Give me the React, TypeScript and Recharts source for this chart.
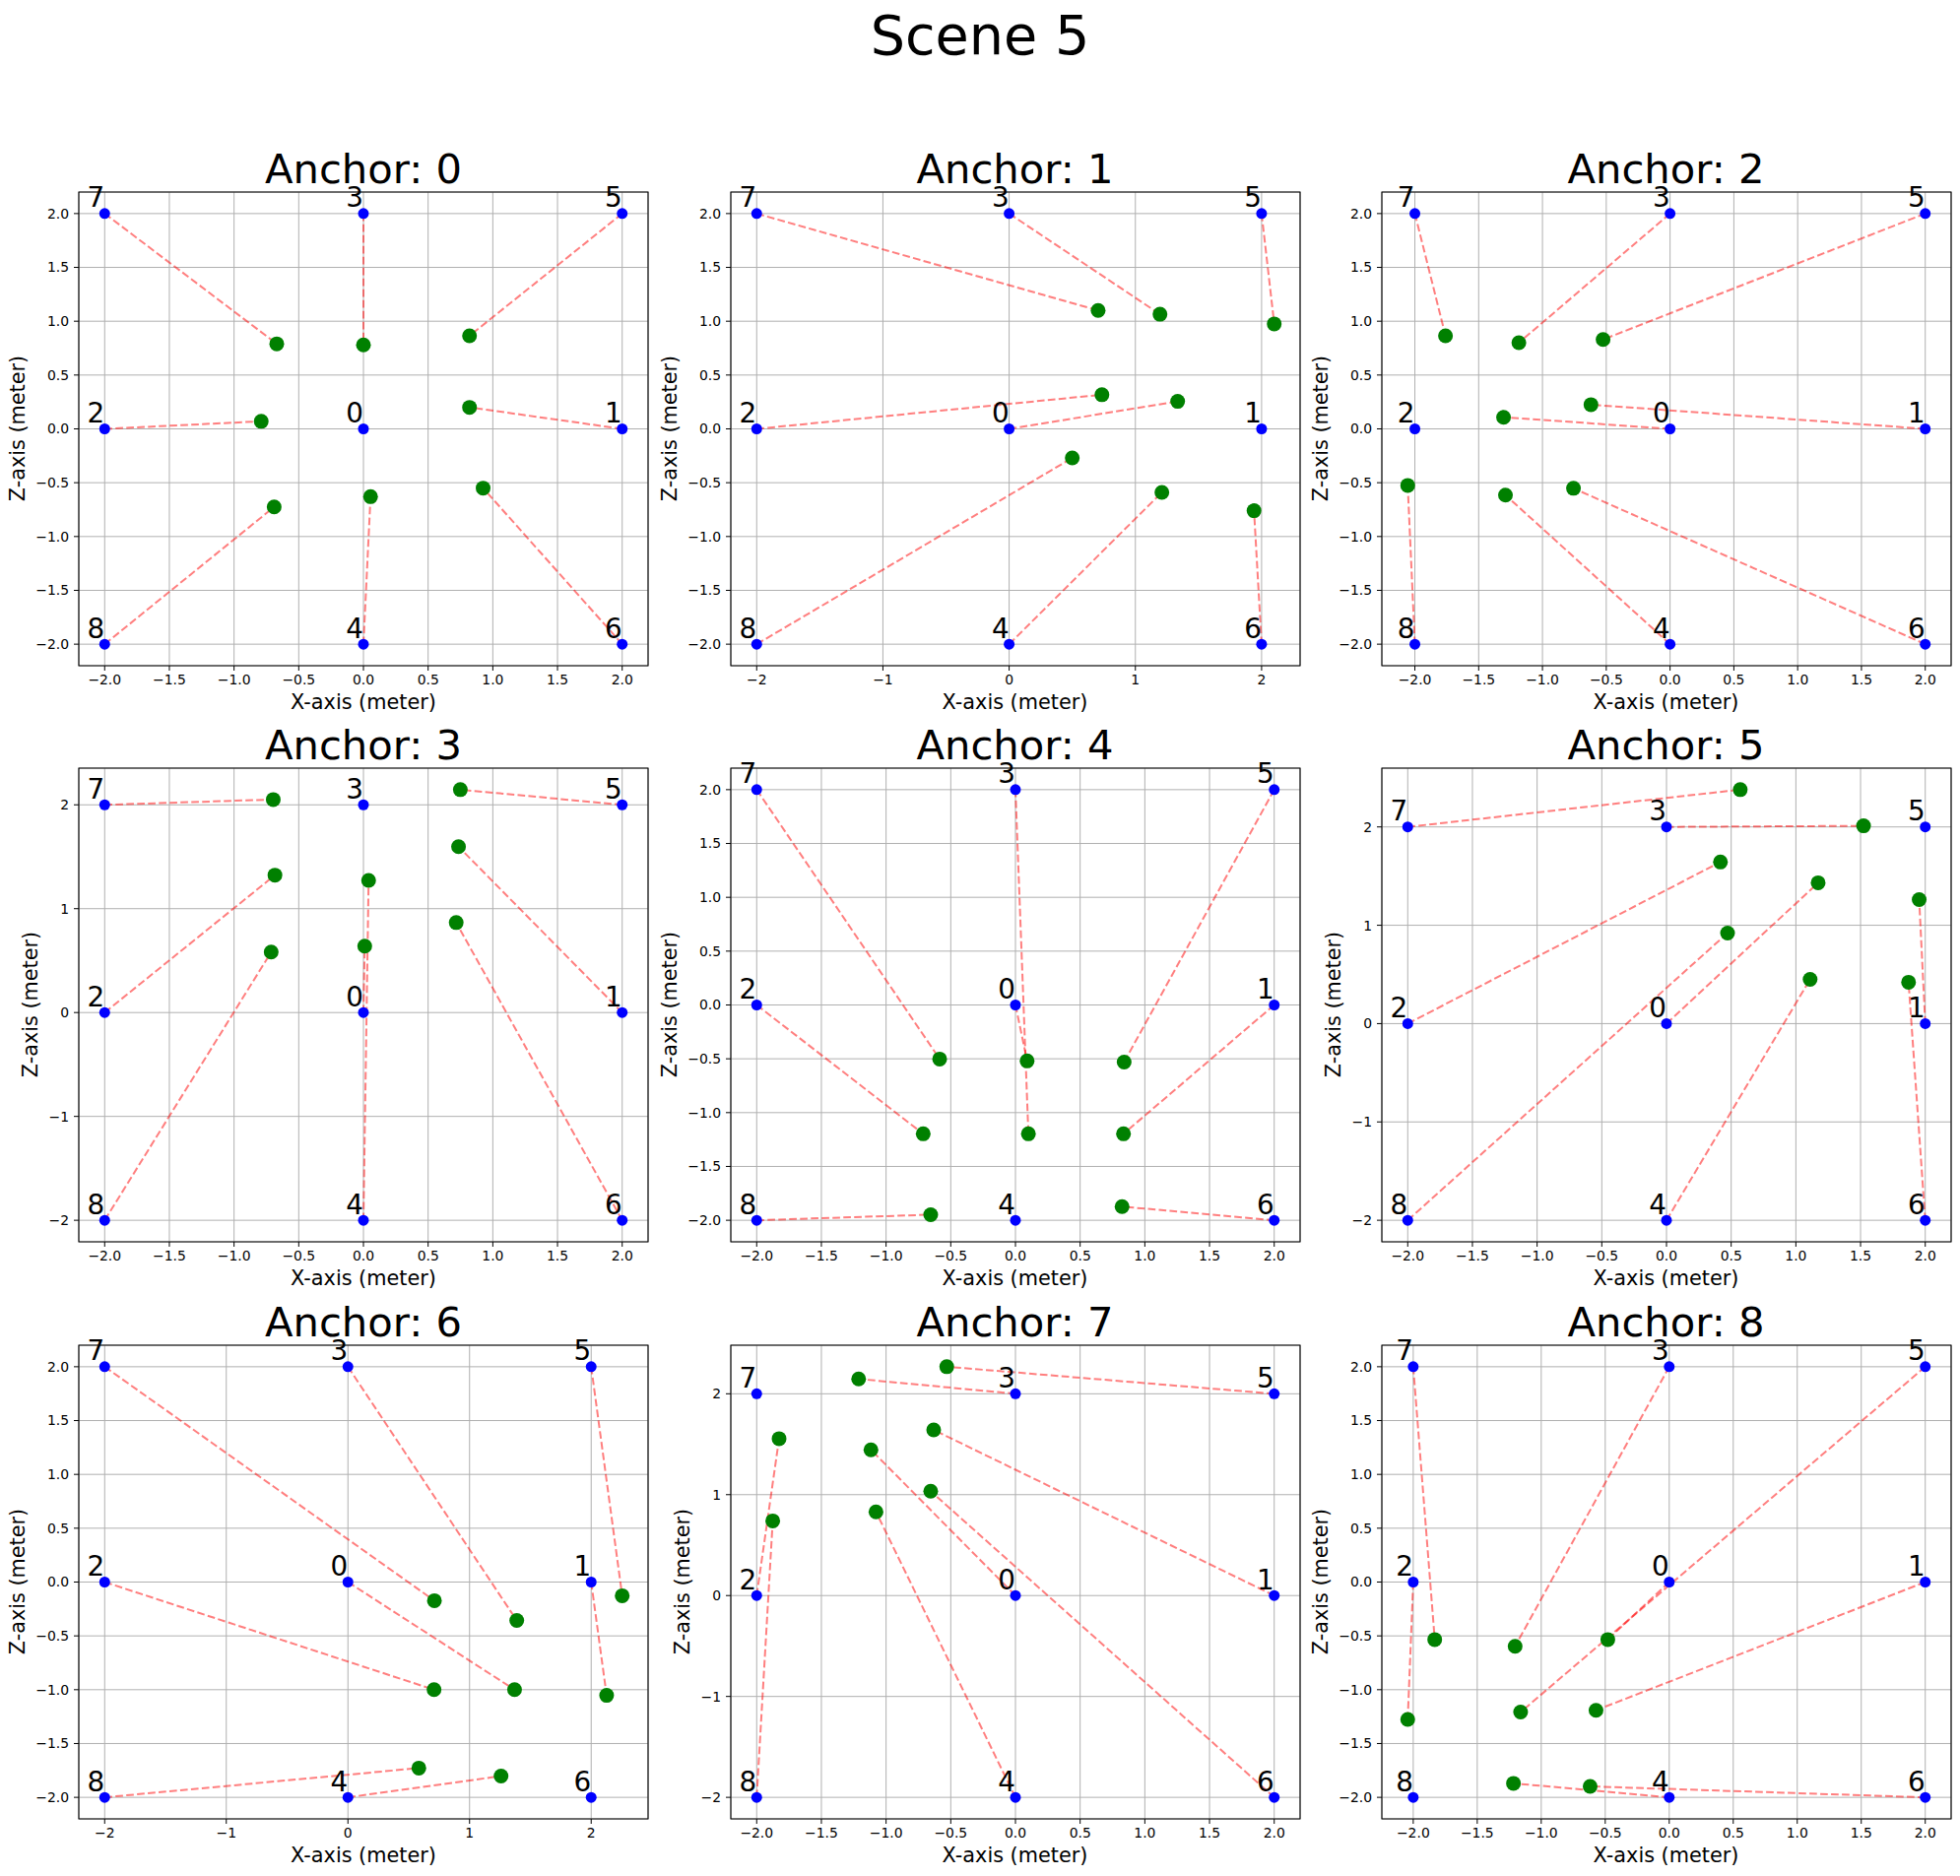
import React from "react";
import {
  ScatterChart,
  Scatter,
  XAxis,
  YAxis,
  CartesianGrid,
  ReferenceLine,
  ReferenceArea,
} from "recharts";

// anchors (true positions), same in every panel
const ANCHOR_IDS = [0, 1, 2, 3, 4, 5, 6, 7, 8];
const ANCHOR_X = [0, 2, -2, 0, 0, 2, 2, -2, -2];
const ANCHOR_Z = [0, 0, 0, 2, -2, 2, -2, 2, -2];

// estimated positions, one row per reference anchor (panel), column = anchor id
// null = the panel's own anchor (no estimate drawn)
const EST_X = [
  [null, 0.82, -0.79, 0.0, 0.055, 0.82, 0.925, -0.67, -0.69],
  [1.335, null, 0.735, 1.195, 1.21, 2.1, 1.94, 0.705, 0.5],
  [-1.305, -0.62, null, -1.185, -1.29, -0.525, -0.757, -1.76, -2.056],
  [0.01, 0.735, -0.684, null, 0.04, 0.749, 0.717, -0.697, -0.713],
  [0.09, 0.835, -0.713, 0.1, null, 0.84, 0.824, -0.586, -0.655],
  [1.172, 1.953, 0.417, 1.523, 1.11, null, 1.871, 0.57, 0.472],
  [1.37, 2.127, 0.708, 1.388, 1.259, 2.255, null, 0.711, 0.583],
  [-1.117, -0.632, -1.827, -1.212, -1.078, -0.531, -0.655, null, -1.876],
  [-0.48, -0.572, -2.043, -1.204, -1.217, -1.161, -0.618, -1.832, null],
];
const EST_Z = [
  [null, 0.2, 0.07, 0.78, -0.63, 0.865, -0.55, 0.79, -0.725],
  [0.255, null, 0.317, 1.065, -0.59, 0.975, -0.76, 1.1, -0.27],
  [0.108, 0.225, null, 0.8, -0.615, 0.83, -0.552, 0.865, -0.525],
  [0.64, 1.597, 1.323, null, 1.272, 2.146, 0.866, 2.051, 0.582],
  [-0.52, -1.197, -1.197, -1.197, null, -0.53, -1.873, -0.502, -1.948],
  [1.432, 1.261, 1.643, 2.011, 0.45, null, 0.421, 2.379, 0.921],
  [-1.0, -1.053, -1.0, -0.357, -1.802, -0.127, null, -0.173, -1.728],
  [1.445, 1.642, 1.555, 2.147, 0.83, 2.268, 1.034, null, 0.74],
  [-0.534, -1.191, -1.276, -0.597, -1.87, -1.208, -1.898, -0.534, null],
];

const TICKS_HALF = [-2, -1.5, -1, -0.5, 0, 0.5, 1, 1.5, 2];
const TICKS_ONE = [-2, -1, 0, 1, 2];
const X_TICK_STEP = [0.5, 1, 0.5, 0.5, 0.5, 0.5, 1, 0.5, 0.5];
const Z_TICK_STEP = [0.5, 0.5, 0.5, 1, 0.5, 1, 0.5, 1, 0.5];

const FONT = "DejaVu Sans, sans-serif";
const COL_LEFT = [80, 741.5, 1402.5];
const ROW_TOP = [194.5, 779.5, 1365.5];
const PW = 578;
const PH = 481;
const PAD_L = 80;
const PAD_T = 40;
const PAD_R = 2;
const PAD_B = 40;

// matplotlib-style 5% margins
const pad = (vals: number[]): [number, number] => {
  const lo = Math.min(...vals);
  const hi = Math.max(...vals);
  const m = (hi - lo) * 0.05;
  return [lo - m, hi + m];
};

const fmt = (step: number) => (v: number) =>
  (step < 1 ? v.toFixed(1) : String(v)).replace("-", "\u2212");

const dot = (r: number, color: string) => (p: any) =>
  <circle cx={p.cx} cy={p.cy} r={r} fill={color} />;

const numLabel = (p: any) => (
  <text
    x={p.cx}
    y={p.cy - 6.5}
    textAnchor="end"
    fontSize={27.8}
    fontFamily={FONT}
    fill="#000"
  >
    {p.payload.id}
  </text>
);

const TICK = { fill: "#000", fontSize: 13.9, fontFamily: FONT };

function Panel({ k }: { k: number }) {
  const row = Math.floor(k / 3);
  const col = k % 3;
  const anchors = ANCHOR_IDS.map((i) => ({ x: ANCHOR_X[i], z: ANCHOR_Z[i], id: i }));
  const est = ANCHOR_IDS.filter((i) => EST_X[k][i] !== null).map((i) => ({
    x: EST_X[k][i] as number,
    z: EST_Z[k][i] as number,
    id: i,
  }));
  const all = [...anchors, ...est];
  const xd = pad(all.map((p) => p.x));
  const yd = pad(all.map((p) => p.z));
  const xs = X_TICK_STEP[k];
  const ys = Z_TICK_STEP[k];

  return (
    <div
      style={{
        position: "absolute",
        left: COL_LEFT[col] - PAD_L,
        top: ROW_TOP[row] - PAD_T,
      }}
    >
      <ScatterChart
        width={PAD_L + PW + PAD_R}
        height={PAD_T + PH + PAD_B}
        margin={{ top: PAD_T, right: PAD_R, left: 0, bottom: 0 }}
        style={{ overflow: "visible" }}
      >
        <CartesianGrid stroke="#b0b0b0" strokeWidth={1} />
        <XAxis
          type="number"
          dataKey="x"
          domain={xd}
          ticks={xs < 1 ? TICKS_HALF : TICKS_ONE}
          interval={0}
          height={PAD_B}
          tickSize={5}
          tickMargin={4}
          tick={TICK}
          tickLine={{ stroke: "#000" }}
          axisLine={false}
          tickFormatter={fmt(xs)}
        />
        <YAxis
          type="number"
          dataKey="z"
          domain={yd}
          ticks={ys < 1 ? TICKS_HALF : TICKS_ONE}
          interval={0}
          width={PAD_L}
          tickSize={5}
          tickMargin={5}
          tick={TICK}
          tickLine={{ stroke: "#000" }}
          axisLine={false}
          tickFormatter={fmt(ys)}
        />
        <ReferenceArea
          x1={xd[0]}
          x2={xd[1]}
          y1={yd[0]}
          y2={yd[1]}
          fill="none"
          stroke="#000"
          strokeWidth={1.1}
        />
        <Scatter data={anchors} shape={dot(5.5, "#0000ff")} isAnimationActive={false} />
        <Scatter data={est} shape={dot(7.5, "#008000")} isAnimationActive={false} />
        {est.map((p) => (
          <ReferenceLine
            key={p.id}
            segment={[
              { x: ANCHOR_X[p.id], y: ANCHOR_Z[p.id] },
              { x: p.x, y: p.z },
            ]}
            stroke="#ff0000"
            strokeOpacity={0.5}
            strokeWidth={2}
            strokeDasharray="7.7 3.3"
            ifOverflow="visible"
          />
        ))}
        <Scatter data={anchors} shape={numLabel} isAnimationActive={false} />
      </ScatterChart>
    </div>
  );
}

export default function App() {
  const panels = [0, 1, 2, 3, 4, 5, 6, 7, 8];
  return (
    <div
      style={{
        position: "absolute",
        left: 0,
        top: 0,
        width: 1990,
        height: 1905,
        background: "#fff",
        fontFamily: FONT,
      }}
    >
      {panels.map((k) => (
        <Panel key={k} k={k} />
      ))}
      <svg
        width={1990}
        height={1905}
        style={{ position: "absolute", left: 0, top: 0, pointerEvents: "none" }}
      >
        <text x={995} y={55} textAnchor="middle" fontSize={55.6} fontFamily={FONT}>
          Scene 5
        </text>
        {panels.map((k) => {
          const row = Math.floor(k / 3);
          const col = k % 3;
          const cx = COL_LEFT[col] + PW / 2;
          const cy = ROW_TOP[row] + PH / 2;
          const yl = COL_LEFT[col] - (Z_TICK_STEP[k] < 1 ? 55 : 42);
          return (
            <g key={k} fontFamily={FONT} fill="#000">
              <text x={cx} y={ROW_TOP[row] - 8.5} textAnchor="middle" fontSize={41.7}>
                {`Anchor: ${k}`}
              </text>
              <text x={cx} y={ROW_TOP[row] + PH + 44} textAnchor="middle" fontSize={20.8}>
                X-axis (meter)
              </text>
              <text
                x={yl}
                y={cy}
                textAnchor="middle"
                fontSize={20.8}
                transform={`rotate(-90 ${yl} ${cy})`}
              >
                Z-axis (meter)
              </text>
            </g>
          );
        })}
      </svg>
    </div>
  );
}
